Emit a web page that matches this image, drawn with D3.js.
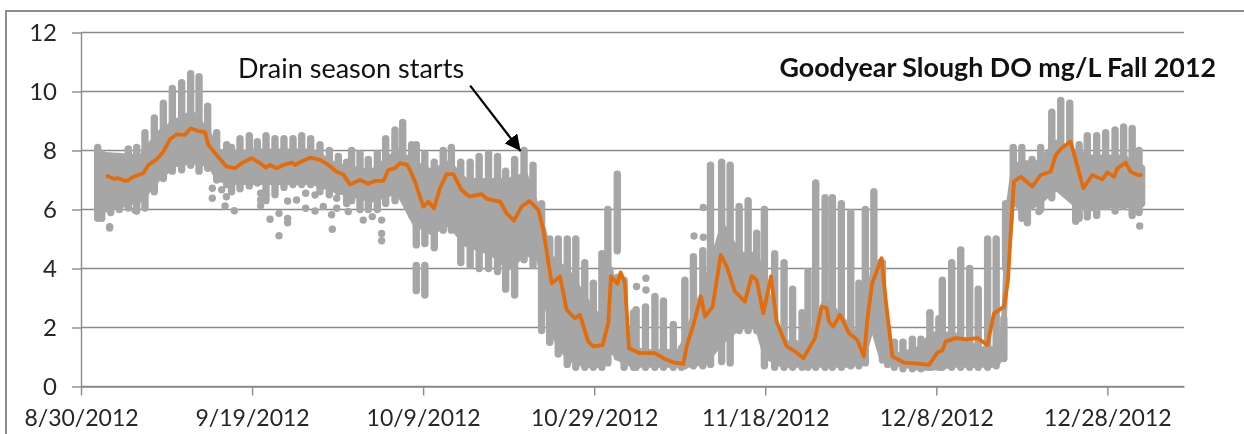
<!DOCTYPE html>
<html><head><meta charset="utf-8">
<style>html,body{margin:0;background:#fff}svg{display:block;filter:blur(0.45px)}text{font-family:Lato,"Open Sans",sans-serif}</style>
<script src="https://cdn.jsdelivr.net/npm/d3@7"></script>
</head><body><div id="chart"></div>
<script>
const yTicks=[0,2,4,6,8,10,12];
const xTickDays=[0,20,40,60,80,100,120];
const xTickLabels=["8/30/2012","9/19/2012","10/9/2012","10/29/2012","11/18/2012","12/8/2012","12/28/2012"];
const titleText="Goodyear Slough DO mg/L Fall 2012";
const noteText="Drain season starts";

// Daily tidal swing of the readings: day since 8/30/2012, top and bottom of each column
const columnDay=[1.95,2.42,3.47,4.48,5.53,6.51,7.48,8.57,9.63,10.68,11.77,12.82,13.8,14.81,15.86,17.03,17.6,18.59,19.68,20.62,21.63,22.68,23.73,24.79,25.8,26.85,27.94,29.03,30.09,31.06,31.64,32.62,33.59,34.65,35.62,36.71,37.61,38.66,
39.2,39.2,40.2,40.2,41.3,42.35,43.3,44.4,45.5,46.55,47.65,48.7,49.65,50.7,51.8,52.85,53.85,54.8,55.8,56.85,57.85,58.9,59.9,60.9,61.6,62.7,62.7,63.5,64.6,64.9,66.0,67.1,68.1,69.25,70.2,70.6,71.6,72.7,73.6,74.9,75.9,76.95,78,79,79.9,81.1,82.2,83.2,84.3,85,85.9,87,
87.85,88.9,90,90.95,91.7,92.7,93.7,94.3,95.1,96.1,97.2,98.2,99.25,100.3,100.7,101.8,102.85,103.9,104.9,106,107,107.9,108.1,109,110,110.65,111.2,112.2,112.8,113.5,114.55,115.6,116.3,116.7,117.65,118.75,119.8,120.9,121.9,122.9,123.7,124];
const columnHigh=[8.1,7.9,7.8,7.8,8.05,8.1,8.6,9.1,9.6,10.1,10.3,10.6,10.5,9.5,8.6,8.2,8.1,8.4,8.5,8.3,8.5,8.4,8.4,8.4,8.5,8.4,8.2,8.0,7.8,7.6,8.0,7.9,7.7,7.9,8.4,8.7,8.95,8.2,
8.2,4.1,7.9,4.1,7.6,8.0,8.1,7.6,7.6,7.8,7.9,7.8,7.3,7.7,8.0,7.5,6.2,5.0,5.0,5.0,5.0,4.2,3.5,4.5,6.0,7.2,3.7,3.6,2.5,2.6,2.7,3.05,2.9,2.1,1.3,3.6,4.4,4.6,7.5,7.6,7.5,6.1,6.3,5.2,6.0,4.5,4.2,3.3,2.5,3.9,6.9,6.4,
6.4,6.2,5.9,3.5,6.0,6.6,4.2,2.0,1.5,1.5,1.6,1.6,2.5,2.3,3.6,4.2,4.6,4.0,3.3,5.0,5.0,2.3,6.2,8.1,8.1,7.3,7.7,8.1,7.8,9.3,9.7,9.6,7.5,8.2,8.5,8.5,8.6,8.7,8.8,8.75,8.0,7.4];
const columnLow=[5.7,5.7,5.9,6.0,6.05,5.95,6.05,6.6,7.05,7.3,7.35,7.5,7.3,7.4,7.0,6.85,6.6,6.7,6.8,6.9,6.3,6.5,6.75,6.85,6.85,6.85,6.6,6.5,6.6,6.2,6.3,6.0,6.0,6.0,6.2,6.3,6.4,5.8,
4.8,3.25,4.85,3.1,4.7,5.3,5.3,4.2,4.1,4.0,4.0,3.9,3.3,3.1,4.3,4.1,1.9,1.5,1.1,0.75,0.65,0.65,0.65,0.65,0.8,4.6,1.0,0.65,0.65,0.65,0.65,0.65,0.65,0.65,0.65,0.7,0.7,0.7,0.75,0.85,0.8,1.9,1.9,1.9,0.7,0.65,0.65,0.65,0.65,0.65,0.65,0.65,
0.65,0.65,0.7,0.7,0.8,1.9,0.9,0.75,0.65,0.6,0.6,0.6,0.65,0.65,0.65,0.65,0.65,0.65,0.65,0.65,0.7,0.95,4.0,6.2,5.7,5.55,6.3,6.0,6.5,6.4,6.9,6.9,5.6,5.7,5.75,5.8,6.1,5.95,6.1,5.8,5.9,6.2];

// Solid core where the readings overlap into one mass
const coreDay=[2,7,9,11,13,15,16,18,20,27,30,34,37,39,41,43,45,48,50,52,53.5,55,57,59,61,62,63,64.5,66,70,71,73,75,77,79,80,82,85,87,90,91.5,92.5,93.5,94.5,98,99.5,102,105,107,107.8,108.3,109,110,112,114,116,118,120,122,124];
const coreTop=[7.9,7.8,8.6,9.0,9.3,8.6,8.0,7.9,8.0,8.0,7.5,7.3,8.0,7.6,7.3,7.6,7.0,7.0,7.0,7.2,6.0,4.4,3.9,3.0,2.2,4.0,1.5,1.3,1.2,1.2,2.0,3.5,5.5,4.5,4.5,3.5,1.5,1.5,3.0,2.0,1.5,4.0,4.3,1.0,1.3,1.8,1.8,1.3,1.3,2.0,6.0,7.5,7.6,7.6,8.3,8.0,7.8,7.8,7.8,7.3];
const coreBottom=[5.9,6.3,7.0,7.5,7.6,7.5,7.0,6.9,6.9,6.9,6.6,6.3,6.6,5.5,5.2,5.5,4.8,4.5,4.0,4.5,4.3,1.8,0.9,0.7,0.7,1.2,0.9,0.7,0.7,0.7,0.7,0.8,1.5,2.0,2.0,1.0,0.7,0.7,0.7,0.7,0.9,2.0,1.0,0.8,0.6,0.6,0.7,0.7,0.7,1.0,4.0,6.3,5.9,6.2,6.7,6.2,6.0,6.1,6.1,6.2];

// Stray readings that sit apart from the columns
const strayDay=[3.35,3.35,6.31,15.35,15.35,16.45,17.0,16.84,17.93,21.0,21.0,21.0,22.1,23.15,23.15,24.16,24.16,24.16,25.2,26.27,26.27,27.36,27.36,28.33,29.3,29.38,29.9,29.9,31.25,33,34.06,35.15,35.15,35.15,64.95,66.05,66.05,71.67,72.76,72.76,85.9,99.25,102.85,112,108.1,108.1,123.78];
const strayValue=[5.42,5.37,5.98,6.72,6.38,6.67,6.43,6.12,5.96,6.55,6.32,6.12,5.67,5.87,5.11,5.7,5.55,6.29,6.32,6.04,6.55,5.95,6.49,6.1,5.82,5.33,6.04,6.38,5.93,5.64,5.76,5.64,5.19,4.94,3.39,3.67,3.27,5.1,5.06,6.07,6.83,2.48,4.63,5.93,5.76,5.3,5.44];

// Smoothed DO line
const trendDay=[2.92,3.78,4.36,5.14,5.53,6.12,7.29,7.87,8.85,9.63,10.4,11.18,12.16,12.82,13.72,14.5,14.89,15.86,17.03,18,18.78,19.95,20.93,21.63,22.1,22.88,23.66,24.63,25,26,26.85,27.94,28.92,29.9,30.67,31.45,32.62,33.59,34.37,35.35,35.93,36.71,37.3,38.15,38.46,39.05,40.02,40.6,41.27,41.97,42.75,43.53,44.5,45.4,46.84,47.43,48.99,49.77,50.62,51.52,52.42,53.47,54.05,55.03,56,56.78,57.75,58.34,59.31,59.9,60.99,61.65,61.96,62.7,63.1,63.6,64.07,65.35,67.1,68.28,69.25,70.42,70.81,71.59,72.49,72.96,73.85,74.8,75.49,76.46,77.63,78.41,79,79.77,80.67,81.33,82.5,83.48,84.45,85.82,86.6,87.18,87.45,87.95,88.74,89.79,90.76,91.55,91.93,92.5,93.61,94.08,94.86,96.22,98.17,99.14,100.12,100.7,101.09,102.26,103.63,104.8,105.97,106.75,107.92,108.38,108.7,109.08,109.87,111.23,112.2,113.37,113.96,114.73,115.71,117.19,118.24,119.41,120,120.78,121.17,122.14,122.73,123.7,124.09];
const trendValue=[7.15,7.04,7.06,6.97,6.99,7.11,7.23,7.51,7.7,7.96,8.38,8.55,8.53,8.75,8.66,8.62,8.19,7.85,7.45,7.4,7.57,7.74,7.57,7.42,7.51,7.4,7.51,7.59,7.51,7.66,7.76,7.68,7.51,7.28,7.19,6.85,7.0,6.87,6.97,6.97,7.34,7.4,7.57,7.51,7.34,6.95,6.1,6.27,6.04,6.72,7.2,7.2,6.66,6.44,6.52,6.36,6.27,5.87,5.62,6.1,6.29,5.99,5.31,3.5,3.73,2.6,2.31,2.43,1.52,1.36,1.41,2.15,3.73,3.48,3.87,3.5,1.3,1.13,1.13,0.93,0.82,0.77,1.36,2.09,3.05,2.37,2.71,4.46,4.07,3.22,2.88,3.75,3.61,2.48,3.73,2.2,1.36,1.19,0.96,1.64,2.71,2.65,2.2,2.03,2.43,1.81,1.58,1.02,2.26,3.5,4.35,2.94,1.02,0.81,0.77,0.73,1.15,1.22,1.52,1.64,1.6,1.64,1.41,2.48,2.71,3.61,5.19,6.95,7.11,6.78,7.17,7.28,7.85,8.1,8.3,6.72,7.17,7.02,7.26,7.11,7.4,7.59,7.28,7.15,7.2];

const arrowFrom=[45.5,10.2], arrowTo=[51.4,7.98];

const W=1244,H=434;
const x=d3.scaleLinear().domain([0,128.96]).range([81,1184]);
const y=d3.scaleLinear().domain([0,12]).range([386.5,32.5]);
const grey="#a6a6a6",axisCol="#8a8a8a",textCol="#262626";

const svg=d3.select("#chart").append("svg").attr("width",W).attr("height",H);
svg.append("path").attr("d",`M6,${H}V11H${W}`).attr("fill","none").attr("stroke","#8c8c8c").attr("stroke-width",2);

svg.append("g").selectAll("line").data(yTicks).join("line")
  .attr("x1",x(0)).attr("x2",x.range()[1]).attr("y1",d=>y(d)).attr("y2",d=>y(d))
  .attr("stroke",axisCol).attr("stroke-width",1.4);

const gy=svg.append("g").attr("transform",`translate(${x(0)},0)`)
  .call(d3.axisLeft(y).tickValues(yTicks).tickSize(9).tickSizeOuter(0).tickPadding(15).tickFormat(d3.format("d")));
const gx=svg.append("g").attr("transform",`translate(0,${y(0)})`)
  .call(d3.axisBottom(x).tickValues(xTickDays).tickSize(9).tickSizeOuter(0).tickPadding(14).tickFormat((d,i)=>xTickLabels[i]));
[gy,gx].forEach(g=>{
  g.selectAll("path,line").attr("stroke",axisCol).attr("stroke-width",1.4);
  g.selectAll("text").attr("fill",textCol);
});
gy.selectAll("text").style("font-size","24px");
gx.selectAll("text").style("font-size","23px");

const coreArea=d3.area().x(d=>x(d)).y0((d,i)=>y(coreBottom[i])).y1((d,i)=>y(coreTop[i]));
svg.append("path").attr("d",coreArea(coreDay)).attr("fill",grey).attr("stroke",grey).attr("stroke-width",4).attr("stroke-linejoin","round");
svg.append("g").selectAll("line").data(columnDay).join("line")
  .attr("x1",d=>x(d)).attr("x2",d=>x(d))
  .attr("y1",(d,i)=>y(columnHigh[i])).attr("y2",(d,i)=>y(columnLow[i]))
  .attr("stroke",grey).attr("stroke-width",7.4).attr("stroke-linecap","round");
svg.append("g").selectAll("circle").data(strayDay).join("circle")
  .attr("cx",d=>x(d)).attr("cy",(d,i)=>y(strayValue[i])).attr("r",3.7).attr("fill",grey);

const line=d3.line().x(d=>x(d[0])).y(d=>y(d[1]));
svg.append("path").datum(trendDay.map((d,i)=>[d,trendValue[i]])).attr("d",line)
  .attr("fill","none").attr("stroke","#e46c0a").attr("stroke-width",3.8).attr("stroke-linejoin","round");

svg.append("text").attr("x",238).attr("y",78).attr("fill","#111").style("font-size","27px").text(noteText);
svg.append("text").attr("x",1216).attr("y",77).attr("text-anchor","end").attr("fill","#111")
  .style("font-size","26.8px").style("font-weight","700").text(titleText);

const defs=svg.append("defs");
defs.append("marker").attr("id","ah").attr("markerUnits","userSpaceOnUse").attr("viewBox","0 0 16 16")
  .attr("refX",16).attr("refY",8).attr("markerWidth",16).attr("markerHeight",16).attr("orient","auto")
  .append("path").attr("d","M0,0L16,8L0,16Z").attr("fill","#000");
svg.append("line").attr("x1",x(arrowFrom[0])).attr("y1",y(arrowFrom[1])).attr("x2",x(arrowTo[0])).attr("y2",y(arrowTo[1]))
  .attr("stroke","#000").attr("stroke-width",2.2).attr("marker-end","url(#ah)");
</script></body></html>
